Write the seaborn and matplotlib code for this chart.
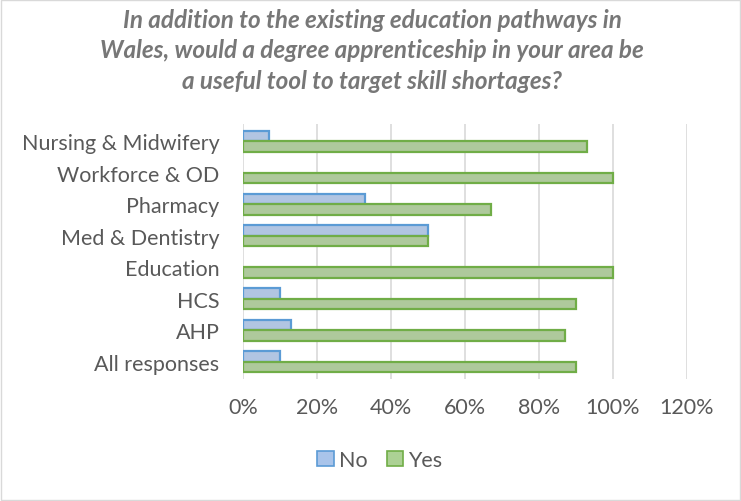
import matplotlib
matplotlib.use("Agg")
import matplotlib.pyplot as plt
import seaborn as sns
import pandas as pd
from matplotlib.patches import Rectangle

categories = ["Nursing & Midwifery", "Workforce & OD", "Pharmacy", "Med & Dentistry",
              "Education", "HCS", "AHP", "All responses"]
no_values = [7, 0, 33, 50, 0, 10, 13, 10]
yes_values = [93, 100, 67, 50, 100, 90, 87, 90]
series_names = ["No", "Yes"]
x_ticks = [0, 20, 40, 60, 80, 100, 120]
title = ("In addition to the existing education pathways in\n"
         "Wales, would a degree apprenticeship in your area be\n"
         "a useful tool to target skill shortages?")

df = pd.DataFrame({
    "category": categories * 2,
    "answer": ["No"] * len(categories) + ["Yes"] * len(categories),
    "value": no_values + yes_values,
})

sns.set_theme(style="white")
plt.rcParams["font.family"] = ["Lato", "DejaVu Sans"]

fills = {"No": "#a9c4ea", "Yes": "#acd194"}
edges = {"No": "#5b9bd5", "Yes": "#70ad47"}
text_gray = "#595959"
label_size = 15.5

fig = plt.figure(figsize=(7.41, 5.02), dpi=100)
ax = fig.add_axes([243 / 741, 1 - 380 / 502, (687 - 243) / 741, (380 - 125) / 502])

sns.barplot(data=df, y="category", x="value", hue="answer", hue_order=series_names,
            order=categories, orient="h", palette=fills, width=0.66, gap=0,
            linewidth=1.6, ax=ax, legend=False)

for container, name in zip(ax.containers, series_names):
    for bar in container:
        bar.set_edgecolor(edges[name])
        if bar.get_width() == 0:
            bar.set_linewidth(0)

ax.set_xlim(0, 120)
ax.set_ylim(7.55, -0.55)
ax.set_xticks(x_ticks)
ax.set_xticklabels([f"{t}%" for t in x_ticks], color=text_gray, fontsize=label_size)
ax.tick_params(axis="y", labelsize=label_size, labelcolor=text_gray, length=0, pad=17)
ax.tick_params(axis="x", length=0, pad=13)
ax.set_xlabel("")
ax.set_ylabel("")
ax.grid(axis="x", color="#d9d9d9", linewidth=1.2)
ax.set_axisbelow(True)
for s in ax.spines.values():
    s.set_visible(False)

fig.text(372 / 741, 1 - 51 / 502, title, ha="center", va="center", fontsize=17.5,
         fontstyle="italic", fontweight="bold", color="#777777", linespacing=1.37)

handles = [Rectangle((0, 0), 1, 1, facecolor=fills[n], edgecolor=edges[n], linewidth=1.2)
           for n in series_names]
fig.legend(handles, series_names, loc="center", bbox_to_anchor=(380 / 741, 1 - 461 / 502),
           ncol=2, frameon=False, fontsize=label_size, labelcolor=text_gray, handlelength=0.75,
           handleheight=0.75, handletextpad=0.25, columnspacing=0.9)

fig.patches.append(Rectangle((0.002, 0.002), 0.996, 0.996, transform=fig.transFigure,
                             fill=False, edgecolor="#d9d9d9", linewidth=1))

fig.savefig("out.png", dpi=100)
